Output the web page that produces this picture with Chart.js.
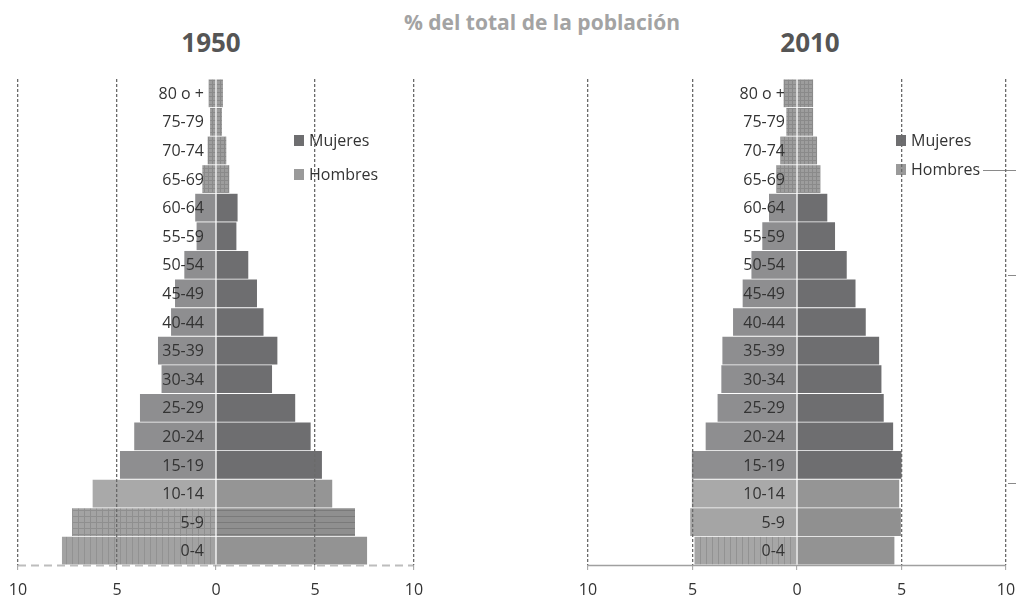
<!DOCTYPE html>
<html lang="es">
<head>
<meta charset="UTF-8">
<title>Pirámides de población 1950 y 2010</title>
<script src="https://cdn.jsdelivr.net/npm/chart.js@4.4.1/dist/chart.umd.min.js"></script>
<style>
  body { margin: 0; background: #fff; font-family: "Open Sans", sans-serif; }
  #lienzo { position: relative; width: 1016px; height: 599px; overflow: hidden; }
  canvas { position: absolute; top: 0; }
  .titulo { position: absolute; text-align: center; font-weight: bold; white-space: nowrap; }
</style>
</head>
<body>
<div id="lienzo">
  <div class="titulo" style="left:342px; top:8px; width:400px; line-height:28px; font-size:21px; color:#a3a3a3;">% del total de la población</div>
  <div class="titulo" style="left:111px; top:26px; width:200px; line-height:32px; font-size:26px; color:#555;">1950</div>
  <div class="titulo" style="left:710px; top:26px; width:200px; line-height:32px; font-size:26px; color:#555;">2010</div>
  <canvas id="g1950" width="508" height="599" style="left:0"></canvas>
  <canvas id="g2010" width="508" height="599" style="left:508px"></canvas>
</div>

<script>
// grupos de edad, de abajo hacia arriba
const grupos = ['0-4', '5-9', '10-14', '15-19', '20-24', '25-29', '30-34', '35-39', '40-44',
                '45-49', '50-54', '55-59', '60-64', '65-69', '70-74', '75-79', '80 o +'];

// % del total de la población
const hombres1950 = [7.78, 7.27, 6.23, 4.85, 4.13, 3.84, 2.75, 2.93, 2.27, 2.07, 1.60, 0.98, 1.05, 0.69, 0.42, 0.30, 0.37];
const mujeres1950 = [7.63, 7.02, 5.87, 5.35, 4.78, 4.00, 2.83, 3.10, 2.40, 2.07, 1.63, 1.03, 1.09, 0.67, 0.52, 0.30, 0.35];
const hombres2010 = [4.90, 5.11, 5.03, 5.03, 4.37, 3.80, 3.62, 3.57, 3.06, 2.60, 2.18, 1.66, 1.34, 0.99, 0.80, 0.51, 0.64];
const mujeres2010 = [4.66, 4.97, 4.89, 5.00, 4.60, 4.15, 4.04, 3.93, 3.29, 2.80, 2.38, 1.82, 1.45, 1.12, 0.96, 0.77, 0.77];

const ejeMin = -10;
const ejeMax = 10;
const ejePaso = 5;

const FUENTE = '"Open Sans", sans-serif';

// tramas para imitar los rellenos del original
function trama(base, linea, tipo, paso) {
  const c = document.createElement('canvas');
  c.width = paso; c.height = paso;
  const g = c.getContext('2d');
  g.fillStyle = base;
  g.fillRect(0, 0, paso, paso);
  g.fillStyle = linea;
  if (tipo.includes('v')) g.fillRect(0, 0, 1, paso);
  if (tipo.includes('h')) g.fillRect(0, 0, paso, 1);
  return g.createPattern(c, 'repeat');
}

const cuadricula = trama('#9d9d9d', '#8a8a8a', 'vh', 4);

function coloresHombres(anio) {
  return grupos.map((g, i) => {
    if (i >= 13) return cuadricula;
    if (i === 0) return trama(anio === 1950 ? '#a2a2a2' : '#a6a6a6', '#929292', 'v', 6);
    if (i === 1) return anio === 1950 ? trama('#a3a3a3', '#8f8f8f', 'vh', 6) : '#a5a5a5';
    if (i === 2) return '#a9a9a9';
    return '#8e8e90';
  });
}

function coloresMujeres(anio) {
  return grupos.map((g, i) => {
    if (i >= 13) return cuadricula;
    if (i === 0) return '#939393';
    if (i === 1) return anio === 1950 ? trama('#8f8f8f', '#7a7a7a', 'h', 6) : '#909090';
    if (i === 2) return '#959595';
    return '#6e6e70';
  });
}

// etiquetas de edad, leyenda y línea base
const extras = {
  id: 'extras',
  afterDatasetsDraw(chart, args, opts) {
    const ctx = chart.ctx;
    const x = chart.scales.x;
    const y = chart.scales.y;
    const area = chart.chartArea;
    ctx.save();

    // línea base
    ctx.strokeStyle = opts.baseColor;
    ctx.lineWidth = opts.baseWidth;
    ctx.setLineDash(opts.baseDash);
    ctx.beginPath();
    ctx.moveTo(area.left, area.bottom + 0.5);
    ctx.lineTo(area.right, area.bottom + 0.5);
    ctx.stroke();
    ctx.setLineDash([]);

    // grupos de edad
    ctx.font = '16px ' + FUENTE;
    ctx.fillStyle = '#333';
    ctx.textAlign = 'right';
    ctx.textBaseline = 'middle';
    const x0 = x.getPixelForValue(0) - 12;
    chart.data.labels.forEach((lab, i) => {
      ctx.fillText(lab, x0, y.getPixelForValue(i) + 1);
    });

    // leyenda
    ctx.textAlign = 'left';
    const items = [chart.data.datasets[1], chart.data.datasets[0]];
    items.forEach((ds, k) => {
      const cy = opts.legendY[k];
      ctx.fillStyle = ds.legendColor;
      ctx.fillRect(opts.legendX, cy - 6, 10, 11);
      ctx.fillStyle = '#333';
      ctx.fillText(ds.label, opts.legendX + 15, cy);
    });

    // restos del gráfico vecino (solo a la derecha)
    if (opts.vecino) {
      ctx.strokeStyle = '#8a8a8a';
      ctx.lineWidth = 1;
      ctx.beginPath();
      ctx.moveTo(475, 170.5); ctx.lineTo(508, 170.5);
      ctx.moveTo(500, 275.5); ctx.lineTo(508, 275.5);
      ctx.moveTo(500, 483.5); ctx.lineTo(508, 483.5);
      ctx.stroke();
    }
    ctx.restore();
  }
};

function piramide(id, anio, hombres, mujeres, pad, extrasOpts) {
  return new Chart(document.getElementById(id), {
    type: 'bar',
    data: {
      labels: grupos,
      datasets: [
        {
          label: 'Hombres',
          data: hombres.map(v => -v),
          backgroundColor: coloresHombres(anio),
          legendColor: '#9a9a9a',
          borderWidth: 0,
          barPercentage: 1,
          categoryPercentage: 0.97
        },
        {
          label: 'Mujeres',
          data: mujeres,
          backgroundColor: coloresMujeres(anio),
          legendColor: '#6e6e70',
          borderWidth: 0,
          barPercentage: 1,
          categoryPercentage: 0.97
        }
      ]
    },
    options: {
      indexAxis: 'y',
      responsive: false,
      animation: false,
      layout: { padding: pad },
      scales: {
        x: {
          stacked: true,
          min: ejeMin,
          max: ejeMax,
          afterFit: s => { s.height = 34; s.paddingLeft = 0; s.paddingRight = 0; },
          ticks: {
            stepSize: ejePaso,
            padding: 11,
            color: '#333',
            font: { family: FUENTE, size: 16 },
            callback: v => Math.abs(v)
          },
          grid: {
            z: 1,
            lineWidth: 1.3,
            color: c => (c.tick && c.tick.value === 0) ? 'rgba(0,0,0,0)' : '#6a6a6a',
            tickColor: '#a0a0a0',
            tickLength: 5,
            tickWidth: 1
          },
          border: { display: false, dash: [3, 2] }
        },
        y: {
          stacked: true,
          reverse: true,
          display: false
        }
      },
      plugins: {
        legend: { display: false },
        tooltip: { enabled: false },
        extras: extrasOpts
      }
    },
    plugins: [extras]
  });
}

piramide('g1950', 1950, hombres1950, mujeres1950,
  { left: 18, right: 94, top: 79, bottom: 0 },
  { baseColor: '#bdbdbd', baseWidth: 2, baseDash: [8, 5], legendX: 294, legendY: [141, 175], vecino: false });

piramide('g2010', 2010, hombres2010, mujeres2010,
  { left: 80, right: 10, top: 79, bottom: 0 },
  { baseColor: '#a0a0a0', baseWidth: 1.5, baseDash: [], legendX: 388, legendY: [141, 170], vecino: true });
</script>
</body>
</html>
